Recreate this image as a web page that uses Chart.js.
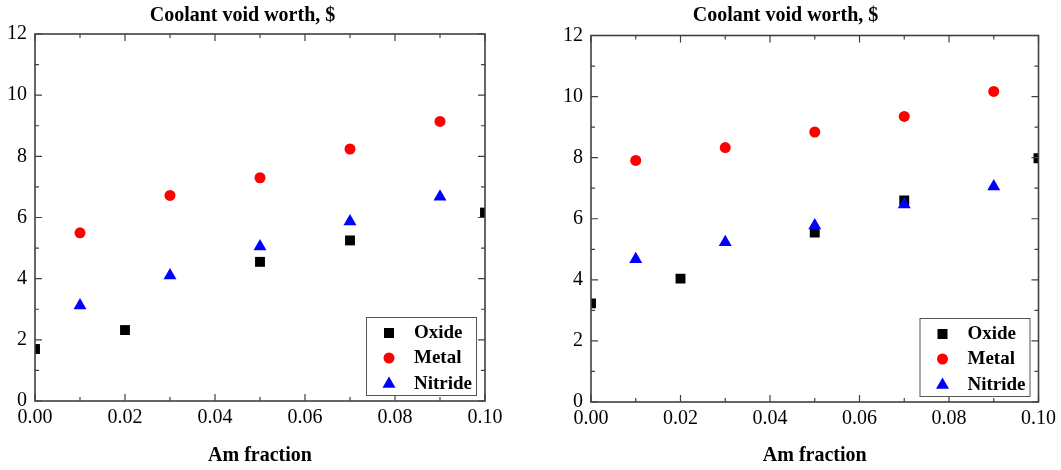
<!DOCTYPE html>
<html>
<head>
<meta charset="utf-8">
<script src="https://cdn.jsdelivr.net/npm/chart.js@4/dist/chart.umd.min.js"></script>
<style>
  html, body { margin: 0; padding: 0; background: #fff; }
  .box { position: absolute; top: 0; }
  #leftBox { left: 0; width: 530px; height: 470px; }
  #rightBox { left: 530px; width: 531px; height: 470px; }
</style>
</head>
<body>
<div class="box" id="leftBox"><canvas id="left" width="530" height="470"></canvas></div>
<div class="box" id="rightBox"><canvas id="right" width="531" height="470"></canvas></div>
<script>
// x positions (Am fraction)
const oxideX = [0, 0.02, 0.05, 0.07, 0.10];
const metalX = [0.01, 0.03, 0.05, 0.07, 0.09];
const nitrideX = [0.01, 0.03, 0.05, 0.07, 0.09];

// left panel
const oxideLeft = [1.70, 2.32, 4.55, 5.25, 6.16];
const metalLeft = [5.50, 6.72, 7.30, 8.24, 9.14];
const nitrideLeft = [3.12, 4.10, 5.05, 5.87, 6.68];

// right panel
const oxideRight = [3.23, 4.04, 5.55, 6.60, 7.98];
const metalRight = [7.91, 8.33, 8.84, 9.35, 10.17];
const nitrideRight = [4.67, 5.23, 5.78, 6.47, 7.06];

const seriesNames = ['Oxide', 'Metal', 'Nitride'];
const xTicks = [0, 0.02, 0.04, 0.06, 0.08, 0.10];
const yTicks = [0, 2, 4, 6, 8, 10, 12];

const serif = '"Liberation Serif", "DejaVu Serif", serif';
const axisColor = '#404040';

function pts(xs, ys) {
  return xs.map((x, i) => ({ x: x, y: ys[i] }));
}

// box frame + inward ticks on all four sides
const frameTicks = {
  id: 'frameTicks',
  afterDraw(chart) {
    const { ctx, chartArea: a, scales: { x, y } } = chart;
    ctx.save();
    ctx.strokeStyle = axisColor;
    ctx.lineWidth = 1.2;
    ctx.beginPath();
    for (let i = 0; i <= 10; i++) {
      const px = x.getPixelForValue(i * 0.01);
      const len = i % 2 === 0 ? 7 : 4;
      ctx.moveTo(px, a.bottom); ctx.lineTo(px, a.bottom - len);
      ctx.moveTo(px, a.top); ctx.lineTo(px, a.top + len);
    }
    for (let v = 0; v <= 12; v++) {
      const py = y.getPixelForValue(v);
      const len = v % 2 === 0 ? 7 : 4;
      ctx.moveTo(a.left, py); ctx.lineTo(a.left + len, py);
      ctx.moveTo(a.right, py); ctx.lineTo(a.right - len, py);
    }
    ctx.stroke();
    ctx.lineWidth = 1.6;
    ctx.strokeRect(a.left, a.top, a.right - a.left, a.bottom - a.top);
    ctx.restore();
  }
};

// legend drawn inside the plot, bottom right
const innerLegend = {
  id: 'innerLegend',
  afterDraw(chart) {
    const { ctx, chartArea: a } = chart;
    const w = 110, h = 78;
    const bx = a.right - 9 - w, by = a.bottom - 6 - h;
    ctx.save();
    ctx.fillStyle = '#fff';
    ctx.fillRect(bx, by, w, h);
    ctx.strokeStyle = '#555';
    ctx.lineWidth = 1;
    ctx.strokeRect(bx + 0.5, by + 0.5, w, h);
    const rows = [16, 41, 67];
    chart.data.datasets.forEach((ds, i) => {
      const cx = bx + 23, cy = by + rows[i];
      ctx.fillStyle = ds.backgroundColor;
      ctx.beginPath();
      if (ds.pointStyle === 'rect') {
        ctx.rect(cx - 5, cy - 5, 10, 10);
      } else if (ds.pointStyle === 'circle') {
        ctx.arc(cx, cy, 5.5, 0, Math.PI * 2);
      } else {
        ctx.moveTo(cx, cy - 7.5);
        ctx.lineTo(cx + 6.5, cy + 3.75);
        ctx.lineTo(cx - 6.5, cy + 3.75);
        ctx.closePath();
      }
      ctx.fill();
      ctx.fillStyle = '#000';
      ctx.font = 'bold 19px ' + serif;
      ctx.textBaseline = 'middle';
      ctx.textAlign = 'left';
      ctx.fillText(ds.label, bx + 48, cy);
    });
    ctx.restore();
  }
};

function makeChart(id, oxide, metal, nitride, lay) {
  return new Chart(document.getElementById(id), {
    type: 'scatter',
    data: {
      datasets: [
        { label: seriesNames[0], data: pts(oxideX, oxide), pointStyle: 'rect',
          pointRadius: 7, backgroundColor: '#000000', borderWidth: 0, order: 2 },
        { label: seriesNames[1], data: pts(metalX, metal), pointStyle: 'circle',
          pointRadius: 5.5, backgroundColor: '#ff0000', borderWidth: 0, order: 1 },
        { label: seriesNames[2], data: pts(nitrideX, nitride), pointStyle: 'triangle',
          pointRadius: 7.5, backgroundColor: '#0000ff', borderWidth: 0, order: 0 }
      ]
    },
    options: {
      responsive: false,
      animation: false,
      devicePixelRatio: 1,
      layout: { padding: { left: 0, right: lay.right, top: 0, bottom: 0 } },
      plugins: {
        legend: { display: false },
        tooltip: { enabled: false },
        title: {
          display: true,
          text: 'Coolant void worth, $',
          color: '#000',
          font: { family: serif, size: 20, weight: 'bold', lineHeight: 1.2 },
          padding: { top: 4, bottom: lay.titleBottom }
        }
      },
      scales: {
        x: {
          type: 'linear',
          min: 0, max: 0.1,
          afterBuildTicks: s => { s.ticks = xTicks.map(v => ({ value: v })); },
          afterFit: s => { s.height = lay.xHeight; },
          grid: { display: false, drawTicks: false },
          border: { display: false },
          ticks: {
            padding: 5,
            color: '#000',
            maxRotation: 0,
            font: { family: serif, size: 20 },
            callback: v => Number(v).toFixed(2)
          },
          title: {
            display: true,
            text: 'Am fraction',
            color: '#000',
            font: { family: serif, size: 20, weight: 'bold', lineHeight: 1.2 },
            padding: { top: 0, bottom: 2 }
          }
        },
        y: {
          min: 0, max: 12,
          afterBuildTicks: s => { s.ticks = yTicks.map(v => ({ value: v })); },
          afterFit: s => { s.width = lay.yWidth; },
          grid: { display: false, drawTicks: false },
          border: { display: false },
          ticks: {
            padding: 8,
            color: '#000',
            font: { family: serif, size: 20 }
          }
        }
      }
    },
    plugins: [frameTicks, innerLegend]
  });
}

makeChart('left', oxideLeft, metalLeft, nitrideLeft,
  { right: 45, yWidth: 35, xHeight: 69, titleBottom: 6 });
makeChart('right', oxideRight, metalRight, nitrideRight,
  { right: 20, yWidth: 61, xHeight: 68, titleBottom: 7.5 });
</script>
</body>
</html>
